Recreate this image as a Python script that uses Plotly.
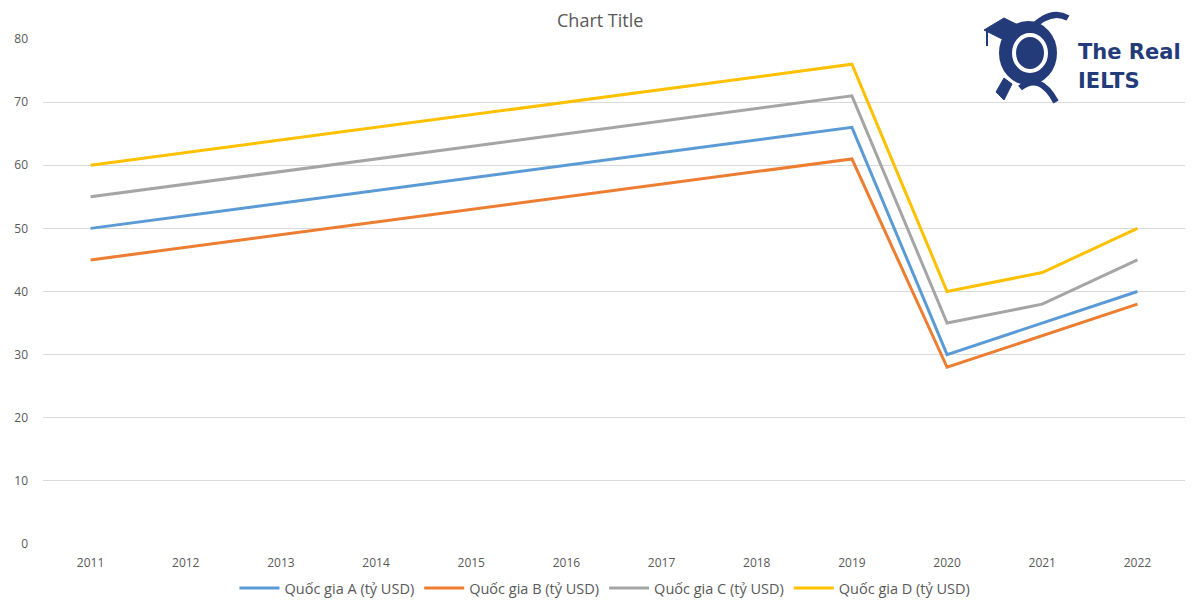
import plotly.graph_objects as go

years = ["2011", "2012", "2013", "2014", "2015", "2016", "2017", "2018", "2019", "2020", "2021", "2022"]
series_names = ["Quốc gia A (tỷ USD)", "Quốc gia B (tỷ USD)", "Quốc gia C (tỷ USD)", "Quốc gia D (tỷ USD)"]
country_a = [50, 52, 54, 56, 58, 60, 62, 64, 66, 30, 35, 40]
country_b = [45, 47, 49, 51, 53, 55, 57, 59, 61, 28, 33, 38]
country_c = [55, 57, 59, 61, 63, 65, 67, 69, 71, 35, 38, 45]
country_d = [60, 62, 64, 66, 68, 70, 72, 74, 76, 40, 43, 50]
y_ticks = [0, 10, 20, 30, 40, 50, 60, 70, 80]

colors = ["#5B9BD5", "#ED7D31", "#A5A5A5", "#FFC000"]
font_family = "Open Sans, Liberation Sans, sans-serif"

OFF = 8  # page offset of the figure inside the browser window
L, R, T, B = 35, 23, 31, 64
PW, PH = 1200 - L - R, 600 - T - B


def px(xs):
    return (xs - OFF - L) / PW


def py(ys):
    return (600 - B - (ys - OFF)) / PH


fig = go.Figure()
for name, vals, col in zip(series_names, [country_a, country_b, country_c, country_d], colors):
    fig.add_trace(go.Scatter(x=years, y=vals, name=name, mode="lines",
                             line=dict(color=col, width=3)))

fig.update_layout(
    width=1200, height=600,
    paper_bgcolor="white", plot_bgcolor="white",
    margin=dict(l=L, r=R, t=T, b=B, autoexpand=False),
    font=dict(family=font_family, color="#595959", size=12),
    showlegend=True,
    legend=dict(orientation="h", x=(605 - OFF) / 1200, xanchor="center", xref="container",
                y=1 - (588 - OFF) / 600, yanchor="middle", yref="container",
                font=dict(size=14.5, color="#595959"), itemwidth=40,
                traceorder="normal"),
    xaxis=dict(type="category", range=[-0.5, 11.5], showgrid=False, showline=False,
               zeroline=False, ticks="", automargin=False, ticklabelstandoff=10,
               tickfont=dict(size=12, color="#595959")),
    yaxis=dict(range=[0, 80], tickvals=y_ticks, showgrid=True, gridcolor="#D9D9D9",
               gridwidth=1, zeroline=False, showline=False, ticks="", automargin=False,
               tickfont=dict(size=12, color="#595959"), ticklabelstandoff=14),
)

fig.add_annotation(text="Chart Title", xref="paper", yref="paper", x=px(600), y=py(20),
                   yanchor="middle", xanchor="center", showarrow=False,
                   font=dict(size=18, color="#595959", family=font_family))

# Logo (approximation)
navy = "#243B7A"
fig.add_shape(type="path", xref="paper", yref="paper", layer="above",
              path=f"M {px(1030)},{py(30)} Q {px(1050)},{py(8)} {px(1068)},{py(18)}",
              line=dict(color=navy, width=6))
fig.add_shape(type="path", xref="paper", yref="paper", layer="above",
              path=f"M {px(1020)},{py(88)} Q {px(1040)},{py(72)} {px(1056)},{py(102)}",
              line=dict(color=navy, width=6))
fig.add_shape(type="path", xref="paper", yref="paper", layer="above",
              path=f"M {px(996)},{py(92)} L {px(1004)},{py(78)} L {px(1012)},{py(84)} L {px(1004)},{py(100)} Z",
              fillcolor=navy, line=dict(color=navy, width=1))
fig.add_shape(type="circle", xref="paper", yref="paper", layer="above",
              x0=px(1000), x1=px(1056), y0=py(84), y1=py(22),
              fillcolor=navy, line=dict(color=navy))
fig.add_shape(type="circle", xref="paper", yref="paper", layer="above",
              x0=px(1013), x1=px(1047), y0=py(72), y1=py(34),
              fillcolor="white", line=dict(color="white"))
fig.add_shape(type="circle", xref="paper", yref="paper", layer="above",
              x0=px(1017), x1=px(1043), y0=py(68), y1=py(38),
              fillcolor=navy, line=dict(color=navy))
fig.add_shape(type="path", xref="paper", yref="paper", layer="above",
              path=f"M {px(984)},{py(30)} L {px(1004)},{py(18)} L {px(1024)},{py(28)} L {px(1004)},{py(40)} Z",
              fillcolor=navy, line=dict(color=navy, width=1))
fig.add_shape(type="line", xref="paper", yref="paper", layer="above",
              x0=px(987), x1=px(987), y0=py(31), y1=py(46),
              line=dict(color=navy, width=2))

fig.add_annotation(text="<b>The Real</b>", xref="paper", yref="paper",
                   x=px(1076), y=py(52), xanchor="left", yanchor="middle",
                   showarrow=False,
                   font=dict(size=21, color=navy, family="DejaVu Sans"))
fig.add_annotation(text="<b>IELTS</b>", xref="paper", yref="paper",
                   x=px(1076), y=py(81), xanchor="left", yanchor="middle",
                   showarrow=False,
                   font=dict(size=21, color=navy, family="DejaVu Sans"))

fig.write_html("out.html")
